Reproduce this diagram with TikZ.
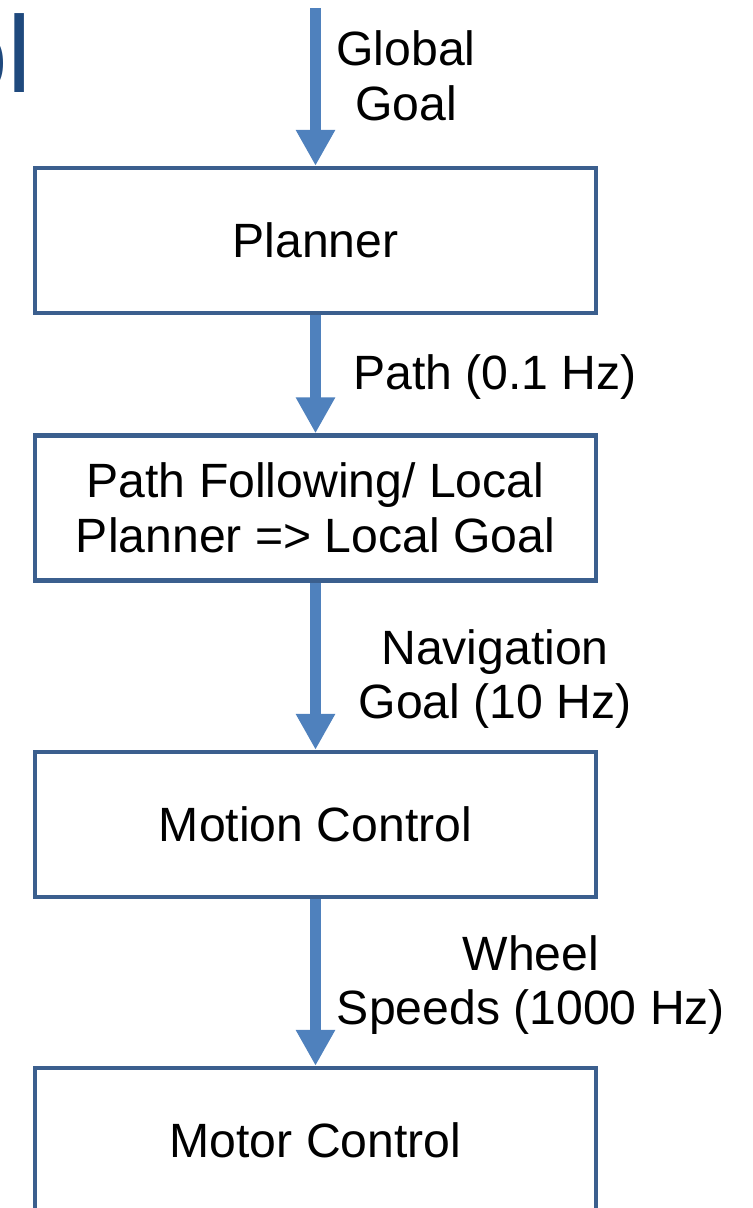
\documentclass[tikz,border=0pt]{standalone}
\usepackage{fontspec}
\setmainfont{Liberation Sans}
\usetikzlibrary{arrows.meta}
\definecolor{boxline}{HTML}{3B5F8E}
\definecolor{flowfill}{HTML}{4F81BD}
\definecolor{titleblue}{HTML}{1F497D}
\begin{document}
\begin{tikzpicture}[x=0.02cm,y=-0.02cm]
\tikzstyle{blk}=[draw=boxline,line width=2.5pt,minimum width=11.22cm,minimum height=2.9cm,align=center,font=\fontsize{27.4}{31.2}\selectfont];
\tikzstyle{lbl}=[align=center,font=\fontsize{27.4}{31.2}\selectfont];
\tikzstyle{flow}=[draw=flowfill,line width=6pt,-{Triangle[length=0.72cm,width=0.74cm]}];
\useasboundingbox (0,0) rectangle (752,1208);
\node [anchor=base west,inner sep=0pt,text=titleblue,font=\fontsize{62}{62}\selectfont] (t) at (-53,92) {ol};
\coordinate (v0) at (315.5,8);
\node [blk] (v1) at (315.5,240.5) {Planner};
\node [blk] (v2) at (315.5,508) {Path Following/ Local\\Planner => Local Goal};
\node [blk] (v3) at (315.5,824.5) {Motion Control};
\node [blk] (v4) at (315.5,1140.5) {Motor Control};
\node [lbl] (l1) at (406,76) {Global\\Goal};
\node [lbl] (l2) at (495,377) {Path (0.1 Hz)};
\node [lbl] (l3) at (495,679) {Navigation\\Goal (10 Hz)};
\node [lbl] (l4) at (531,985) {Wheel\\Speeds (1000 Hz)};
\draw [flow] (v0) -- (v1.north);
\draw [flow] (v1.south) -- (v2.north);
\draw [flow] (v2.south) -- (v3.north);
\draw [flow] (v3.south) -- (v4.north);
\end{tikzpicture}
\end{document}
